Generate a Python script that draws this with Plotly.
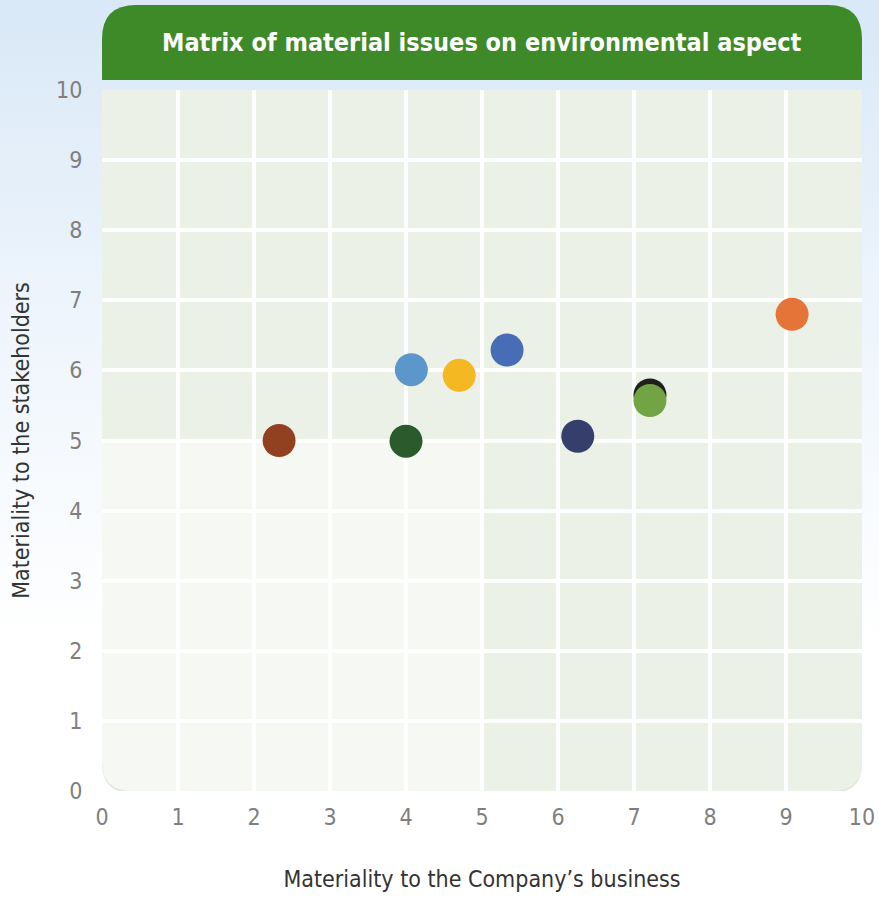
import base64
import plotly.graph_objects as go

# ---- data ----
company_materiality = [2.33, 4.00, 4.07, 4.70, 5.33, 6.26, 7.21, 7.21, 9.08]
stakeholder_materiality = [5.00, 4.99, 6.01, 5.93, 6.29, 5.06, 5.65, 5.57, 6.80]
point_colors = ["#924120", "#2b5a2c", "#5b97cb", "#f4b823", "#466db5",
                "#363f6c", "#1f1f1f", "#72a443", "#e57438"]
tick_values = list(range(0, 11))
tick_labels = [str(v) for v in tick_values]

title_text = "Matrix of material issues on environmental aspect"
x_title = "Materiality to the Company\u2019s business"
y_title = "Materiality to the stakeholders"

FONT = "DejaVu Sans Condensed, Liberation Sans Narrow, sans-serif"

W, H = 879, 898
ML, MR, MT, MB = 102, 17, 90, 107
PW, PH = W - ML - MR, H - MT - MB

# background gradient (svg data uri)
svg = (
    '<svg xmlns="http://www.w3.org/2000/svg" width="879" height="898" preserveAspectRatio="none">'
    '<defs><linearGradient id="g" x1="0" y1="0" x2="0" y2="1">'
    '<stop offset="0" stop-color="#d9e8f7"/>'
    '<stop offset="0.35" stop-color="#eef5fc"/>'
    '<stop offset="0.72" stop-color="#ffffff"/>'
    '<stop offset="1" stop-color="#ffffff"/>'
    '</linearGradient></defs>'
    '<rect x="0" y="0" width="879" height="898" fill="url(#g)"/></svg>'
)
bg_uri = "data:image/svg+xml;base64," + base64.b64encode(svg.encode()).decode()

fig = go.Figure()
fig.add_trace(go.Scatter(
    x=company_materiality, y=stakeholder_materiality, mode="markers",
    marker=dict(size=33, color=point_colors, line=dict(width=0)),
    hoverinfo="x+y", showlegend=False,
))

# rounded corner radii in data units (≈30px)
rx = 30 / (PW / 10)
ry = 30 / (PH / 10)

def bottom_left_rounded(x0, x1, y0, y1):
    return (f"M {x0},{y1} L {x1},{y1} L {x1},{y0} L {x0+rx},{y0} "
            f"Q {x0},{y0} {x0},{y0+ry} Z")

def bottom_right_rounded(x0, x1, y0, y1):
    return (f"M {x0},{y1} L {x1},{y1} L {x1},{y0+ry} Q {x1},{y0} {x1-rx},{y0} "
            f"L {x0},{y0} Z")

def full_rounded(x0, x1, y0, y1):
    return (f"M {x0},{y1} L {x1},{y1} L {x1},{y0+ry} Q {x1},{y0} {x1-rx},{y0} "
            f"L {x0+rx},{y0} Q {x0},{y0} {x0},{y0+ry} Z")

dark_q = "#ebf1e6"
light_q = "#f6f8f3"
shadow_dy = 2.0 / (PH / 10)

shapes = [
    dict(type="path", xref="x", yref="y", layer="below",
         path=full_rounded(0, 10, -shadow_dy, 10 - shadow_dy),
         fillcolor="#e2e6dd", line=dict(width=0)),
    dict(type="rect", xref="x", yref="y", layer="below",
         x0=0, x1=10, y0=5, y1=10, fillcolor=dark_q, line=dict(width=0)),
    dict(type="path", xref="x", yref="y", layer="below",
         path=bottom_left_rounded(0, 5, 0, 5), fillcolor=light_q, line=dict(width=0)),
    dict(type="path", xref="x", yref="y", layer="below",
         path=bottom_right_rounded(5, 10, 0, 5), fillcolor=dark_q, line=dict(width=0)),
]

# title banner (paper coords, above the plot area)
b_y0 = 1 + 10 / PH
b_y1 = 1 + 85 / PH
brx = 34 / PW
bry = 34 / PH
banner_path = (f"M 0,{b_y0} L 0,{b_y1-bry} Q 0,{b_y1} {brx},{b_y1} "
               f"L {1-brx},{b_y1} Q 1,{b_y1} 1,{b_y1-bry} L 1,{b_y0} Z")
shapes.append(dict(type="path", xref="paper", yref="paper", layer="above",
                   path=banner_path, fillcolor="#3f8a28", line=dict(width=0)))

fig.update_layout(
    width=W, height=H,
    margin=dict(l=ML, r=MR, t=MT, b=MB, autoexpand=False),
    paper_bgcolor="rgba(0,0,0,0)",
    plot_bgcolor="rgba(0,0,0,0)",
    shapes=shapes,
    images=[dict(source=bg_uri, xref="paper", yref="paper",
                 x=-ML / PW, y=1 + MT / PH, sizex=W / PW, sizey=H / PH,
                 xanchor="left", yanchor="top", sizing="stretch", layer="below")],
    annotations=[dict(text=f"<b>{title_text}</b>", xref="paper", yref="paper",
                      x=0.5, y=(b_y0 + b_y1) / 2, xanchor="center", yanchor="middle",
                      showarrow=False, font=dict(family=FONT, size=25, color="#ffffff"))],
    xaxis=dict(range=[0, 10], tickvals=tick_values, ticktext=tick_labels,
               showgrid=True, gridcolor="#ffffff", gridwidth=4, zeroline=False,
               showline=False, ticks="outside", ticklen=5, tickcolor="rgba(0,0,0,0)",
               tickfont=dict(family=FONT, size=23, color="#7f7f7f"),
               title=dict(text=x_title, standoff=42,
                          font=dict(family=FONT, size=23, color="#333333")),
               fixedrange=True),
    yaxis=dict(range=[0, 10], tickvals=tick_values, ticktext=tick_labels,
               showgrid=True, gridcolor="#ffffff", gridwidth=4, zeroline=False,
               showline=False, ticks="outside", ticklen=14, tickcolor="rgba(0,0,0,0)",
               tickfont=dict(family=FONT, size=23, color="#7f7f7f"),
               title=dict(text=y_title, standoff=20,
                          font=dict(family=FONT, size=23, color="#333333")),
               fixedrange=True),
)

fig.write_html("out.html", config={"displayModeBar": False})
